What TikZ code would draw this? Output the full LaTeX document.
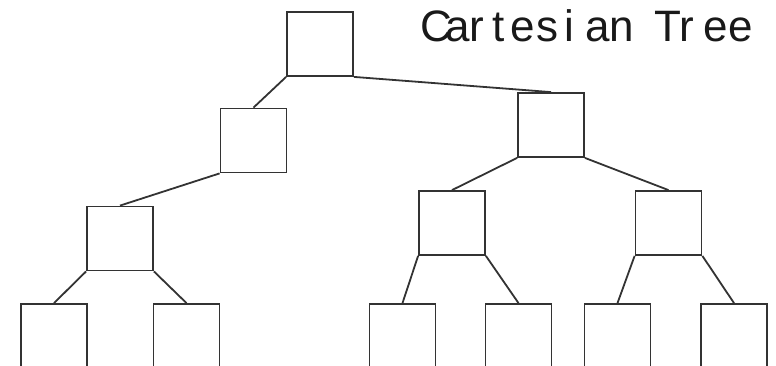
\documentclass[tikz,border=0pt]{standalone}
\usepackage{fontspec}
\setmainfont{Liberation Sans}
\begin{document}
\begin{tikzpicture}[x=1pt,y=-1pt,
  box/.style={draw=black!80,line width=1.8pt,rectangle,minimum width=66pt,minimum height=64pt,inner sep=0pt},
  edge/.style={draw=black!80,line width=1.8pt}]
\useasboundingbox (0,0) rectangle (776,366);
\clip (0,0) rectangle (776,366);
\node[box] (root) at (320,44) {};
\node[box] (l1) at (253.5,140.5) {};
\node[box] (r1) at (551,125) {};
\node[box] (l2) at (120,238.5) {};
\node[box] (ra) at (452,223) {};
\node[box] (rb) at (668.5,223) {};
\node[box] (a) at (54,336) {};
\node[box] (b) at (186.5,336) {};
\node[box] (c) at (402.5,336) {};
\node[box] (d) at (518.5,336) {};
\node[box] (e) at (617.5,336) {};
\node[box] (f) at (734,336) {};
\draw[edge] (root.south west) -- (l1.north);
\draw[edge] (root.south east) -- (r1.north);
\draw[edge] (l1.south west) -- (l2.north);
\draw[edge] (l2.south west) -- (a.north);
\draw[edge] (l2.south east) -- (b.north);
\draw[edge] (r1.south west) -- (ra.north);
\draw[edge] (r1.south east) -- (rb.north);
\draw[edge] (ra.south west) -- (c.north);
\draw[edge] (ra.south east) -- (d.north);
\draw[edge] (rb.south west) -- (e.north);
\draw[edge] (rb.south east) -- (f.north);
\node[anchor=base west,inner sep=0pt,font=\fontsize{44}{46}\selectfont,text=black!90] (title) at (419.8,42) {C\kern-6.2pt a\kern-0.8pt r\kern8.4pt t\kern5.9pt e\kern1.9pt s\kern5.3pt i\kern11.6pt a\kern-0.8pt n \kern8.3pt T\kern-1.9pt r\kern9.5pt e\kern0.5pt e};
\end{tikzpicture}
\end{document}
